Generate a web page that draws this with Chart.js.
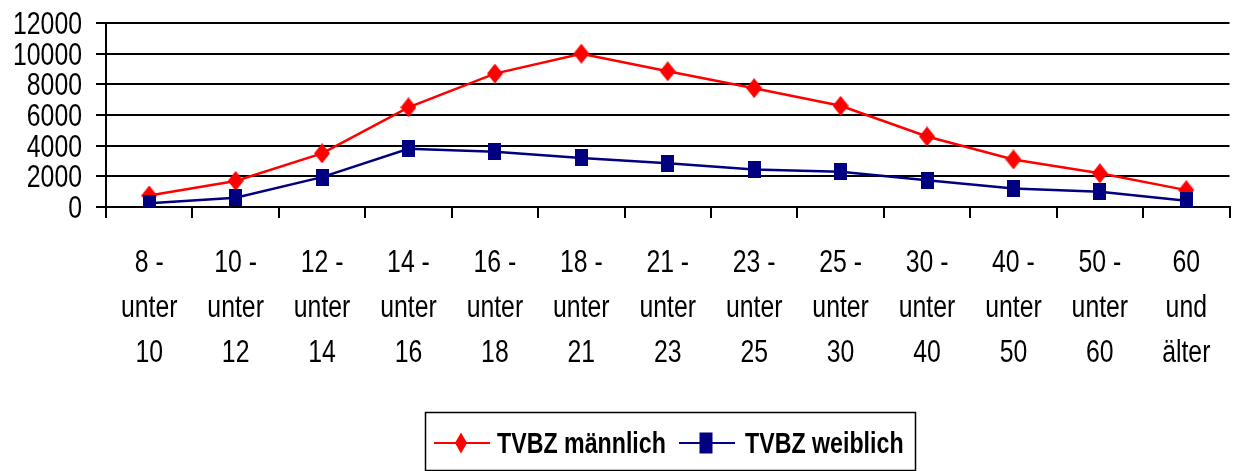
<!DOCTYPE html>
<html>
<head>
<meta charset="utf-8">
<script src="https://cdn.jsdelivr.net/npm/chart.js@4/dist/chart.umd.min.js"></script>
<style>
html,body{margin:0;padding:0;background:#fff;}
#wrap{width:1242px;height:471px;position:relative;}
</style>
</head>
<body>
<div id="wrap"><canvas id="c" width="1242" height="471"></canvas></div>
<script>
const categories = [
  ['8 -','unter','10'], ['10 -','unter','12'], ['12 -','unter','14'], ['14 -','unter','16'],
  ['16 -','unter','18'], ['18 -','unter','21'], ['21 -','unter','23'], ['23 -','unter','25'],
  ['25 -','unter','30'], ['30 -','unter','40'], ['40 -','unter','50'], ['50 -','unter','60'],
  ['60','und','älter']
];
const maleValues   = [750, 1700, 3500, 6500, 8700, 10000, 8850, 7750, 6600, 4600, 3100, 2200, 1100];
const femaleValues = [250, 600, 1950, 3800, 3600, 3200, 2850, 2450, 2300, 1750, 1200, 1000, 400];
const seriesLabels = ['TVBZ männlich', 'TVBZ weiblich'];
const seriesColors = ['#ff0000', '#000080'];
const yTicks = [0, 2000, 4000, 6000, 8000, 10000, 12000];

const FONT = '"Liberation Sans", Arial, sans-serif';
const SX = 0.8; // horizontal condensing of the original narrow typeface

function makeMarker(kind, color, w, h) {
  const c = document.createElement('canvas');
  c.width = w; c.height = h;
  const g = c.getContext('2d');
  g.fillStyle = color;
  g.beginPath();
  if (kind === 'diamond') {
    g.moveTo(w / 2, 0); g.lineTo(w, h / 2); g.lineTo(w / 2, h); g.lineTo(0, h / 2); g.closePath();
  } else {
    g.rect(0, 0, w, h);
  }
  g.fill();
  return c;
}
const diamondImg = makeMarker('diamond', seriesColors[0], 16, 20);
const squareImg  = makeMarker('square', seriesColors[1], 13, 17);

function drawCondensed(ctx, text, x, y, align) {
  ctx.save();
  ctx.translate(x, y);
  ctx.scale(SX, 1);
  ctx.textAlign = align;
  ctx.fillText(text, 0, 0);
  ctx.restore();
}

const textPlugin = {
  id: 'condensedText',
  afterDraw(chart) {
    const ctx = chart.ctx;
    ctx.save();
    ctx.fillStyle = '#000';
    ctx.textBaseline = 'alphabetic';
    ctx.font = '31px ' + FONT;
    const ys = chart.scales.y;
    yTicks.forEach(v => {
      drawCondensed(ctx, String(v), 82, ys.getPixelForValue(v) + 11, 'right');
    });
    const xs = chart.scales.x;
    const baselines = [272, 317, 362];
    categories.forEach((lines, i) => {
      const x = xs.getPixelForTick(i);
      lines.forEach((t, j) => drawCondensed(ctx, t, x, baselines[j], 'center'));
    });
    // legend
    ctx.strokeStyle = '#000';
    ctx.lineWidth = 1.5;
    ctx.strokeRect(425.5, 412.5, 490, 58);
    const cy = 443;
    const items = [
      {x0: 434, x1: 490, mx: 461, tx: 497, kind: 'diamond'},
      {x0: 679, x1: 735, mx: 706, tx: 745, kind: 'square'}
    ];
    items.forEach((it, i) => {
      ctx.strokeStyle = seriesColors[i];
      ctx.fillStyle = seriesColors[i];
      ctx.lineWidth = 2;
      ctx.beginPath(); ctx.moveTo(it.x0, cy); ctx.lineTo(it.x1, cy); ctx.stroke();
      ctx.beginPath();
      if (it.kind === 'diamond') {
        ctx.moveTo(it.mx, cy - 10.5); ctx.lineTo(it.mx + 6, cy); ctx.lineTo(it.mx, cy + 10.5); ctx.lineTo(it.mx - 6, cy); ctx.closePath();
      } else {
        ctx.rect(it.mx - 6.5, cy - 10.5, 13, 21);
      }
      ctx.fill();
      ctx.fillStyle = '#000';
      ctx.font = 'bold 29px ' + FONT;
      drawCondensed(ctx, chart.data.datasets[i].label, it.tx, 453, 'left');
    });
    ctx.restore();
  }
};

new Chart(document.getElementById('c'), {
  type: 'line',
  data: {
    labels: categories,
    datasets: [
      {
        label: seriesLabels[0], data: maleValues,
        borderColor: seriesColors[0], backgroundColor: seriesColors[0],
        borderWidth: 2.5, pointStyle: diamondImg, pointRadius: 10, pointHoverRadius: 10,
        tension: 0, order: 2
      },
      {
        label: seriesLabels[1], data: femaleValues,
        borderColor: seriesColors[1], backgroundColor: seriesColors[1],
        borderWidth: 2.5, pointStyle: squareImg, pointRadius: 10, pointHoverRadius: 10,
        tension: 0, order: 1
      }
    ]
  },
  options: {
    responsive: false,
    animation: false,
    events: [],
    layout: { padding: { top: 23, right: 2, left: 0, bottom: 0 } },
    plugins: { legend: { display: false }, tooltip: { enabled: false } },
    scales: {
      x: {
        offset: true,
        grid: { offset: true, drawOnChartArea: false, drawTicks: true, tickLength: 11, color: '#000', lineWidth: 2 },
        border: { display: true, color: '#000', width: 2 },
        ticks: { display: false, autoSkip: false, maxRotation: 0 },
        afterFit(scale) { scale.height = 264; }
      },
      y: {
        min: 0, max: 12000,
        afterBuildTicks(scale) { scale.ticks = yTicks.map(v => ({ value: v })); },
        grid: { color: '#000', lineWidth: 2, tickLength: 10, drawTicks: true },
        border: { display: true, color: '#000', width: 2 },
        ticks: { display: false, autoSkip: false },
        afterFit(scale) { scale.width = 106; }
      }
    }
  },
  plugins: [textPlugin]
});
</script>
</body>
</html>
